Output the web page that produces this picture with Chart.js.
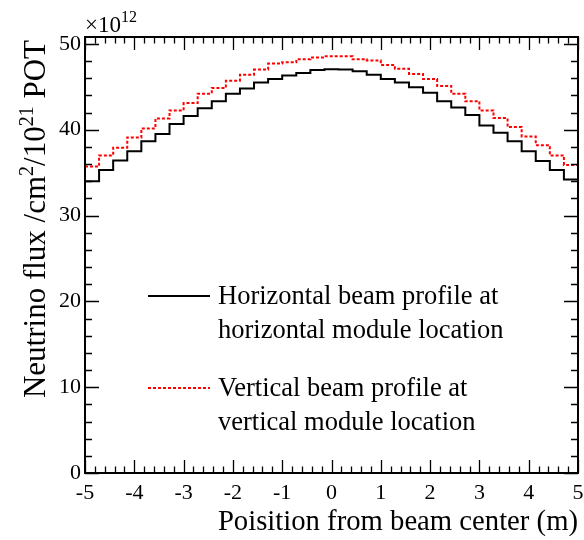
<!DOCTYPE html>
<html>
<head>
<meta charset="utf-8">
<script src="https://cdn.jsdelivr.net/npm/chart.js@4.4.1/dist/chart.umd.min.js"></script>
<style>
  html, body { margin: 0; padding: 0; background: #fff; }
  #wrap { width: 584px; height: 540px; }
</style>
</head>
<body>
<div id="wrap"><canvas id="flux"></canvas></div>
<script>
// 35 bins from -5 m to 5 m, flux in units of 1e12 /cm2/1e21 POT
const xMin = -5;
const xMax = 5;
const horizontalFlux = [
    34.0, 35.3, 36.4, 37.5, 38.65, 39.5, 40.65, 41.6, 42.5, 43.3,
    44.2, 44.8, 45.5, 45.9, 46.3, 46.6, 46.95, 47.05, 47.0, 46.8,
    46.4, 45.9, 45.5, 44.95, 44.3, 43.3, 42.6, 41.7, 40.5, 39.65,
    38.65, 37.5, 36.35, 35.3, 34.2
];
const verticalFlux = [
    35.7, 37.0, 37.9, 39.1, 40.15, 41.3, 42.25, 43.1, 44.2, 44.85,
    45.7, 46.4, 47.0, 47.7, 47.85, 48.2, 48.4, 48.55, 48.55, 48.2,
    48.05, 47.55, 47.1, 46.5, 45.9, 45.1, 44.2, 43.3, 42.25, 41.35,
    40.3, 39.2, 38.2, 37.0, 35.9
];
const legendLabels = [
    ['Horizontal beam profile at', 'horizontal module location'],
    ['Vertical beam profile at', 'vertical module location']
];
const yMax = 50.8;

const serif = "'Liberation Serif', 'Times New Roman', serif";

// histogram -> points at the low edge of each bin, plus the closing edge
function histPoints(values) {
    const w = (xMax - xMin) / values.length;
    const pts = values.map((v, i) => ({ x: xMin + i * w, y: v }));
    pts.push({ x: xMax, y: values[values.length - 1] });
    return pts;
}

// text with superscripts, parts = [[text, isSup], ...]
function richWidth(ctx, parts, size, supSize) {
    let w = 0;
    parts.forEach(p => {
        ctx.font = (p[1] ? supSize : size) + 'px ' + serif;
        w += ctx.measureText(p[0]).width;
    });
    return w;
}

function drawRich(ctx, parts, x, y, size, supSize, rise) {
    let cx = x;
    ctx.textAlign = 'left';
    ctx.textBaseline = 'alphabetic';
    parts.forEach(p => {
        ctx.font = (p[1] ? supSize : size) + 'px ' + serif;
        ctx.fillText(p[0], cx, p[1] ? y - rise : y);
        cx += ctx.measureText(p[0]).width;
    });
}

const rootFrame = {
    id: 'rootFrame',
    afterDraw(chart) {
        const ctx = chart.ctx;
        const a = chart.chartArea;
        const xs = chart.scales.x;
        const ys = chart.scales.y;
        ctx.save();
        ctx.strokeStyle = '#000';
        ctx.fillStyle = '#000';

        // inward ticks on all four sides
        ctx.lineWidth = 1.3;
        ctx.beginPath();
        for (let i = 0; i <= 50; i++) {
            const v = xMin + i * 0.2;
            const px = Math.round(xs.getPixelForValue(v)) + 0.5;
            const len = (i % 5 === 0) ? 13 : 6.5;
            ctx.moveTo(px, a.bottom); ctx.lineTo(px, a.bottom - len);
            ctx.moveTo(px, a.top); ctx.lineTo(px, a.top + len);
        }
        for (let v = 0; v <= 50; v += 2) {
            const py = Math.round(ys.getPixelForValue(v)) + 0.5;
            const len = (v % 10 === 0) ? 14 : 7;
            ctx.moveTo(a.left, py); ctx.lineTo(a.left + len, py);
            ctx.moveTo(a.right, py); ctx.lineTo(a.right - len, py);
        }
        ctx.stroke();

        ctx.lineWidth = 2;
        ctx.strokeRect(a.left, a.top, a.right - a.left, a.bottom - a.top);

        // exponent above the y axis
        drawRich(ctx, [['\u00d710', false], ['12', true]], a.left, 32, 23, 16, 10);

        // y axis title, ends at the top of the frame
        const yParts = [['Neutrino flux /cm', false], ['2', true], ['/10', false], ['21', true], [' POT', false]];
        const yw = richWidth(ctx, yParts, 31, 20);
        ctx.save();
        ctx.translate(45, a.top + 3);
        ctx.rotate(-Math.PI / 2);
        drawRich(ctx, yParts, -yw, 0, 31, 20, 12);
        ctx.restore();

        // x axis title, right aligned
        const xParts = [['Poisition from beam center (m)', false]];
        const xw = richWidth(ctx, xParts, 28.7, 19);
        drawRich(ctx, xParts, a.right - xw, 530, 28.7, 19, 0);

        // legend
        chart.data.datasets.forEach((ds, i) => {
            const top = [296, 388][i];
            ctx.save();
            ctx.strokeStyle = ds.borderColor;
            ctx.lineWidth = 2;
            ctx.setLineDash(ds.borderDash || []);
            ctx.beginPath();
            ctx.moveTo(148, top); ctx.lineTo(210, top);
            ctx.stroke();
            ctx.restore();
            ctx.font = '26.5px ' + serif;
            ctx.textAlign = 'left';
            ctx.textBaseline = 'alphabetic';
            legendLabels[i].forEach((line, j) => {
                ctx.fillText(line, 218, top + 8 + j * 34);
            });
        });
        ctx.restore();
    }
};

const config = {
    type: 'line',
    data: {
        datasets: [
            {
                label: 'Horizontal beam profile at horizontal module location',
                data: histPoints(horizontalFlux),
                stepped: 'before',
                borderColor: '#000000',
                borderWidth: 2,
                pointRadius: 0,
                fill: false,
            },
            {
                label: 'Vertical beam profile at vertical module location',
                data: histPoints(verticalFlux),
                stepped: 'before',
                borderColor: '#ff0000',
                borderWidth: 2,
                borderDash: [3, 2],
                pointRadius: 0,
                fill: false,
            }
        ]
    },
    options: {
        responsive: true,
        maintainAspectRatio: false,
        animation: false,
        layout: {
            padding: { top: 37, right: 6, left: 0, bottom: 0 }
        },
        plugins: {
            legend: { display: false },
            tooltip: { enabled: false },
        },
        scales: {
            x: {
                type: 'linear',
                min: xMin,
                max: xMax,
                grid: { display: false, drawTicks: false },
                border: { display: false },
                ticks: {
                    stepSize: 1,
                    padding: 7,
                    color: '#000',
                    font: { family: serif, size: 22 },
                },
                afterFit(scale) {
                    scale.height = 67;
                    scale.paddingLeft = 0;
                    scale.paddingRight = 0;
                }
            },
            y: {
                min: 0,
                max: yMax,
                grid: { display: false, drawTicks: false },
                border: { display: false },
                ticks: {
                    stepSize: 10,
                    includeBounds: false,
                    padding: 4,
                    color: '#000',
                    font: { family: serif, size: 22 },
                },
                afterFit(scale) {
                    scale.width = 85;
                    scale.paddingTop = 0;
                    scale.paddingBottom = 0;
                }
            }
        }
    },
    plugins: [rootFrame]
};

new Chart(document.getElementById('flux'), config);
</script>
</body>
</html>
